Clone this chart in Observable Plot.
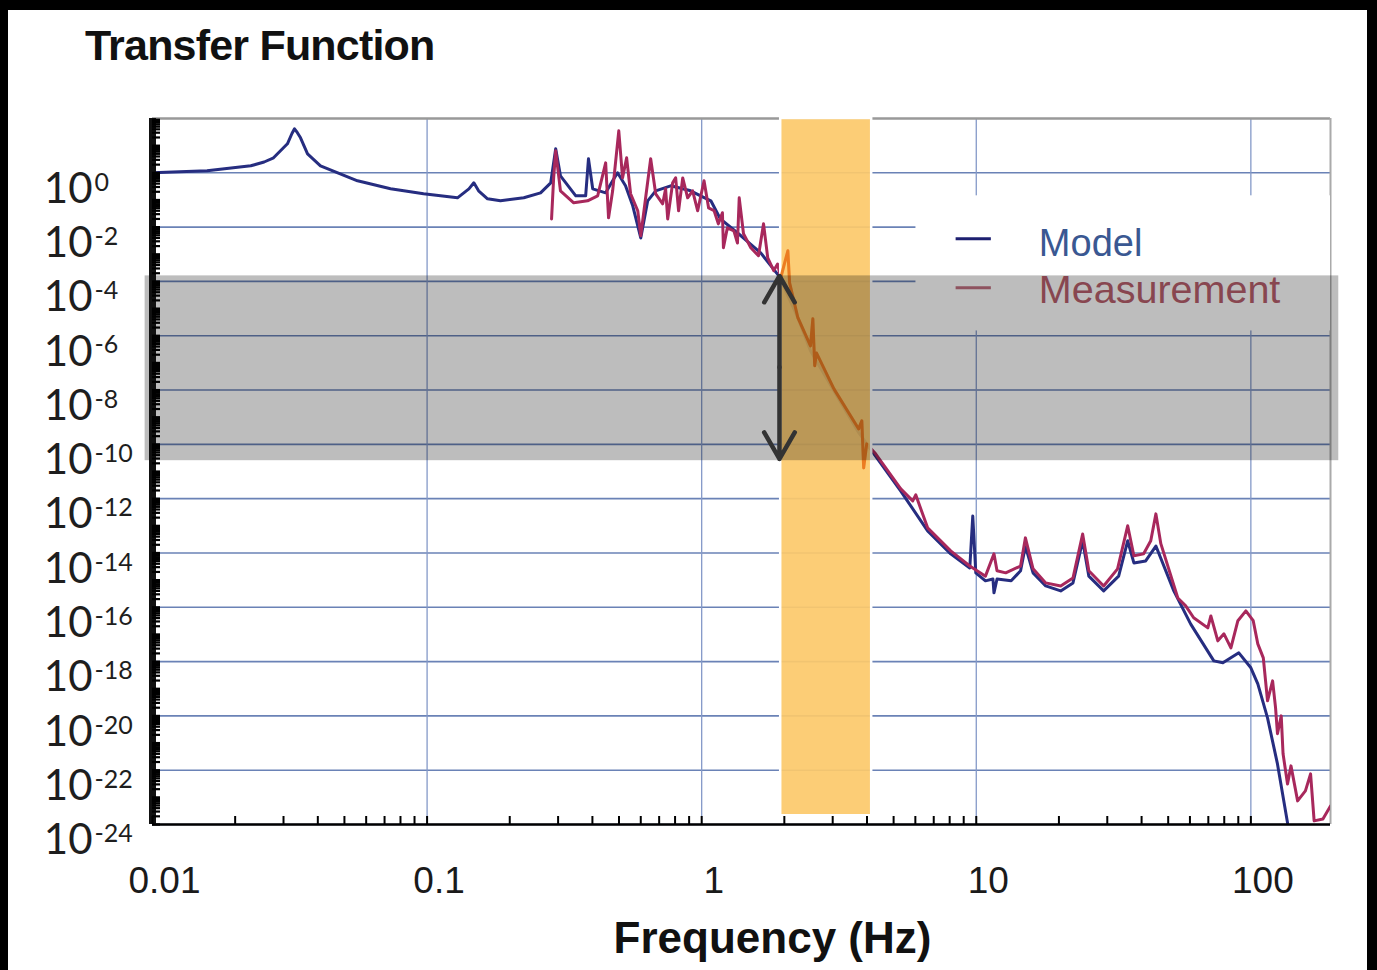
<!DOCTYPE html>
<html><head><meta charset="utf-8">
<script src="https://cdn.jsdelivr.net/npm/d3@7"></script>
<script src="https://cdn.jsdelivr.net/npm/@observablehq/plot@0.6"></script>
<style>
html,body{margin:0;padding:0;background:#000;width:1377px;height:970px;overflow:hidden;}
#paper{position:absolute;left:8px;top:10px;width:1359px;height:960px;background:#fff;}
#title{position:absolute;left:85px;top:24px;font:bold 43px "Liberation Sans",Arial,sans-serif;letter-spacing:-0.8px;line-height:1;color:#111;white-space:nowrap;}
#chart{position:absolute;left:0;top:90px;}
</style></head><body>
<div id="paper"></div>
<div id="title">Transfer Function</div>
<div id="chart"></div>
<script>
// ---- data ----
const modelHz = [0.01, 0.0158, 0.0228, 0.0255, 0.0276, 0.031, 0.0322, 0.0329, 0.0337, 0.0346, 0.0367, 0.0409, 0.0558, 0.0736, 0.0971, 0.129, 0.142, 0.148, 0.154, 0.166, 0.185, 0.225, 0.259, 0.282, 0.294, 0.306, 0.348, 0.378, 0.387, 0.401, 0.447, 0.474, 0.494, 0.528, 0.561, 0.600, 0.636, 0.680, 0.771, 0.912, 0.991, 1.08, 1.17, 1.39, 1.64, 1.91, 2.24, 2.49, 3.03, 3.70, 4.24, 5.31, 6.65, 8.07, 9.47, 9.71, 9.96, 10.8, 11.5, 11.6, 11.9, 13.4, 14.5, 15.1, 16.1, 17.9, 20.3, 22.5, 24.4, 25.7, 29.1, 33.0, 35.6, 37.5, 41.4, 45.1, 52.4, 60.4, 73.3, 79.1, 90.4, 100, 106, 115, 125, 136];
const modelMag = [1, 1.19, 1.81, 2.5, 3.57, 11.7, 28, 41.8, 30, 19.5, 5.0, 1.81, 0.507, 0.257, 0.169, 0.120, 0.257, 0.428, 0.217, 0.110, 0.093, 0.120, 0.183, 0.428, 7.66, 0.776, 0.142, 0.142, 3.28, 0.257, 0.183, 0.507, 1.0, 0.332, 0.061, 4.0e-3, 0.093, 0.217, 0.332, 0.217, 0.142, 0.093, 0.020, 4.8e-3, 1.13e-3, 1.6e-4, 4.6e-6, 2.8e-7, 9.4e-9, 3.1e-10, 4.5e-11, 1.9e-12, 6.5e-14, 9.3e-15, 2.8e-15, 2.3e-13, 1.85e-15, 9.4e-16, 1.1e-15, 3.4e-16, 1.1e-15, 9.4e-16, 2.2e-15, 1.8e-14, 1.85e-15, 6.1e-16, 4.0e-16, 7.9e-16, 2.8e-14, 1.4e-15, 4.0e-16, 1.4e-15, 2.8e-14, 4.3e-15, 5.1e-15, 1.8e-14, 4.0e-16, 2.4e-17, 1.06e-18, 9.0e-19, 2.1e-18, 5.9e-19, 1.5e-19, 8.4e-21, 1.7e-22, 1.15e-24];

const measHz = [0.284, 0.289, 0.294, 0.306, 0.342, 0.384, 0.418, 0.447, 0.458, 0.474,
  0.499, 0.515, 0.533, 0.551, 0.585, 0.600, 0.625, 0.652, 0.680, 0.721,
  0.739, 0.752, 0.784, 0.804, 0.824, 0.853, 0.889, 0.927, 0.967, 1.02,
  1.06, 1.11, 1.15, 1.19, 1.20, 1.24, 1.31, 1.35, 1.37, 1.42,
  1.51, 1.61, 1.68, 1.74, 1.83, 1.89, 1.94, 2.06, 2.09, 2.24,
  2.49, 2.54, 2.58, 2.62, 3.03, 3.73, 3.83, 3.89, 3.99, 4.30,
  5.31, 5.87, 6.02, 6.65, 8.07, 9.47, 10.8, 11.6, 11.9, 12.8,
  14.5, 15.1, 16.1, 17.9, 20.3, 22.5, 24.4, 25.7, 29.1, 32.7,
  35.6, 37.5, 40.7, 43.2, 45.1, 47.0, 54.2, 57.9, 61.9, 69.7,
  71.5, 75.8, 79.8, 84.6, 89.7, 95.9, 102, 106, 111, 115,
  120, 123, 125, 129, 131, 136, 140, 148, 158, 165,
  170, 183, 195];
const measMag = [0.020, 0.65, 6.46, 0.217, 0.0785, 0.093, 0.142, 2.33, 0.022, 0.217,
  35.2, 0.65, 3.57, 0.169, 0.040, 4.8e-3, 0.120, 3.28, 0.169, 0.072,
  0.257, 0.020, 0.428, 0.65, 0.040, 0.65, 0.120, 0.217, 0.040, 0.507,
  0.051, 0.040, 0.0132, 0.034, 1.73e-3, 9.4e-3, 7.3e-3, 2.6e-3, 0.120, 5.7e-3,
  1.73e-3, 8.8e-4, 0.0132, 7.4e-4, 2.5e-4, 4.4e-4, 1.36e-4, 1.34e-3, 8.9e-5, 4.6e-6,
  4.2e-7, 4.2e-6, 7.8e-8, 2.3e-7, 1.1e-8, 3.7e-10, 7.3e-10, 1.36e-11, 1.04e-10, 4.5e-11,
  2.3e-12, 8.3e-13, 1.38e-12, 8.4e-14, 1.19e-14, 3.3e-15, 1.4e-15, 9.3e-15, 2.2e-15, 1.85e-15,
  3.3e-15, 3.6e-14, 2.6e-15, 7.9e-16, 6.1e-16, 1.2e-15, 5.0e-14, 2.2e-15, 6.1e-16, 2.6e-15,
  1.0e-13, 7.8e-15, 9.3e-15, 2.8e-14, 2.75e-13, 2.2e-14, 2.2e-16, 1.13e-16, 4.1e-17, 1.74e-17,
  4.8e-17, 5.8e-18, 1.05e-17, 3.2e-18, 3.2e-17, 7.4e-17, 3.2e-17, 4.5e-18, 1.37e-18, 3.6e-20,
  1.95e-19, 2.0e-20, 2.2e-21, 1.0e-20, 4.0e-22, 3.1e-23, 1.44e-22, 7.4e-24, 1.73e-23, 7.3e-23,
  1.36e-24, 1.6e-24, 4.8e-24];

const xTicks = [0.01, 0.1, 1, 10, 100];
const xTickLabels = ["0.01", "0.1", "1", "10", "100"];
const yTicks = [1, 1e-2, 1e-4, 1e-6, 1e-8, 1e-10, 1e-12, 1e-14, 1e-16, 1e-18, 1e-20, 1e-22, 1e-24];
const yTickExp = ["0", "-2", "-4", "-6", "-8", "-10", "-12", "-14", "-16", "-18", "-20", "-22", "-24"];
const seriesNames = ["Model", "Measurement"];
const xTitle = "Frequency (Hz)";

// annotation extents (in data units)
const orangeHz = [1.94, 4.16], orangeMag = [2.1e-24, 100];
const grayHz = [0.0094, 209], grayMag = [2.5e-11, 1.6e-4];
const arrowHz = 1.92, arrowMag = [1.6e-4, 6.9e-8, 2.9e-11];
const legendBoxHz = [6.03, 195], legendBoxMag = [1.5e-6, 0.142];
const legendLineHz = [8.41, 11.3], legendLineMag = [3.7e-3, 5.8e-5];
const legendTextHz = 16.9, legendTextMag = [2.4e-3, 4.5e-5];

const xDomain = [0.01, 195], yDomain = [1e-24, 100];

// ---- build ----
const model = modelHz.map((f, i) => ({f, v: modelMag[i]}));
const meas = measHz.map((f, i) => ({f, v: measMag[i]}));
const measOrange = meas.filter(d => d.f >= orangeHz[0] && d.f <= orangeHz[1]);
const xMinor = d3.range(-2, 3).flatMap(k => d3.range(1, 10).map(m => m * 10 ** k)).filter(v => v <= xDomain[1]);
const yMinor = d3.range(-24, 2).flatMap(k => d3.range(1, 10).map(m => m * 10 ** k)).filter(v => v <= yDomain[1]);

const F = '"Liberation Sans", Arial, sans-serif';
const chart = Plot.plot({
  width: 1377, height: 880,
  marginLeft: 152, marginRight: 47, marginTop: 28, marginBottom: 146,
  x: {type: "log", domain: xDomain},
  y: {type: "log", domain: yDomain},
  style: {background: "transparent", fontFamily: F, overflow: "visible"},
  marks: [
    Plot.ruleY(yTicks, {stroke: "#6a82b6", strokeWidth: 1.6}),
    Plot.ruleX(xTicks.slice(1), {stroke: "#8499c8", strokeWidth: 1.3}),
    Plot.ruleY([yDomain[1]], {stroke: "#999", strokeWidth: 2.5}),
    Plot.ruleX([xDomain[1]], {stroke: "#aaa", strokeWidth: 2}),
    Plot.rect([{x1: legendBoxHz[0], x2: legendBoxHz[1], y1: legendBoxMag[0], y2: legendBoxMag[1]}],
      {x1: "x1", x2: "x2", y1: "y1", y2: "y2", fill: "white"}),
    Plot.line(model, {x: "f", y: "v", stroke: "#262d80", strokeWidth: 3, strokeLinejoin: "round", clip: true}),
    Plot.line(meas, {x: "f", y: "v", stroke: "#a8285c", strokeWidth: 3, strokeLinejoin: "round", clip: true}),
    Plot.rect([{x1: orangeHz[0], x2: orangeHz[1], y1: orangeMag[0], y2: orangeMag[1]}],
      {x1: "x1", x2: "x2", y1: "y1", y2: "y2", fill: "#fcc96c", fillOpacity: 0.93, stroke: "white", strokeWidth: 2.5}),
    Plot.line(measOrange, {x: "f", y: "v", stroke: "#ec7c22", strokeWidth: 3}),
    // legend
    Plot.link([{x1: legendLineHz[0], x2: legendLineHz[1], y: legendLineMag[0]}],
      {x1: "x1", x2: "x2", y1: "y", y2: "y", stroke: "#1d1f70", strokeWidth: 3}),
    Plot.link([{x1: legendLineHz[0], x2: legendLineHz[1], y: legendLineMag[1]}],
      {x1: "x1", x2: "x2", y1: "y", y2: "y", stroke: "#c07080", strokeWidth: 3}),
    Plot.text([{x: legendTextHz, y: legendTextMag[0], t: seriesNames[0]}],
      {x: "x", y: "y", text: "t", textAnchor: "start", fontSize: 38, fill: "#3a5892"}),
    Plot.text([{x: legendTextHz, y: legendTextMag[1], t: seriesNames[1]}],
      {x: "x", y: "y", text: "t", textAnchor: "start", fontSize: 39.5, fill: "#b85f6c"}),
    // gray band
    Plot.rect([{x1: grayHz[0], x2: grayHz[1], y1: grayMag[0], y2: grayMag[1]}],
      {x1: "x1", x2: "x2", y1: "y1", y2: "y2", fill: "#000", fillOpacity: 0.26}),
    // double arrow
    Plot.arrow([{f: arrowHz, a: arrowMag[1], b: arrowMag[0]}, {f: arrowHz, a: arrowMag[1], b: arrowMag[2]}],
      {x1: "f", x2: "f", y1: "a", y2: "b", stroke: "#333", strokeWidth: 4.5, headLength: 25, headAngle: 60}),
    // axes
    Plot.ruleY([yDomain[0]], {stroke: "#000", strokeWidth: 2.5}),
    Plot.ruleX([xDomain[0]], {stroke: "#111", strokeWidth: 7}),
    Plot.axisX({ticks: xMinor, tickSize: -8, tickFormat: () => "", label: null, stroke: "#000", strokeWidth: 2}),
    Plot.axisY({ticks: yMinor, tickSize: -8, tickFormat: () => "", label: null, stroke: "#000", strokeWidth: 2.2}),
    Plot.text(xTicks, {x: d => d, text: (d, i) => xTickLabels[i], frameAnchor: "bottom", dy: 68, dx: 12, fontSize: 37, fill: "#1a1a1a"}),
    Plot.text(yTicks, {y: d => d, text: () => "10", frameAnchor: "left", textAnchor: "end", lineAnchor: "top", dx: -60, fontSize: 42, fill: "#1e1e1e", fontFamily: "Lato"}),
    Plot.text(yTicks, {y: d => d, text: (d, i) => yTickExp[i], frameAnchor: "left", textAnchor: "start", lineAnchor: "top", dx: -58, fontSize: 25, fill: "#1e1e1e", fontFamily: "Lato"}),
    Plot.text([xTitle], {text: d => d, frameAnchor: "bottom", dy: 128, dx: 31, fontSize: 44, fontWeight: "bold", fill: "#111"})
  ]
});
document.getElementById("chart").appendChild(chart);
</script>
</body></html>
